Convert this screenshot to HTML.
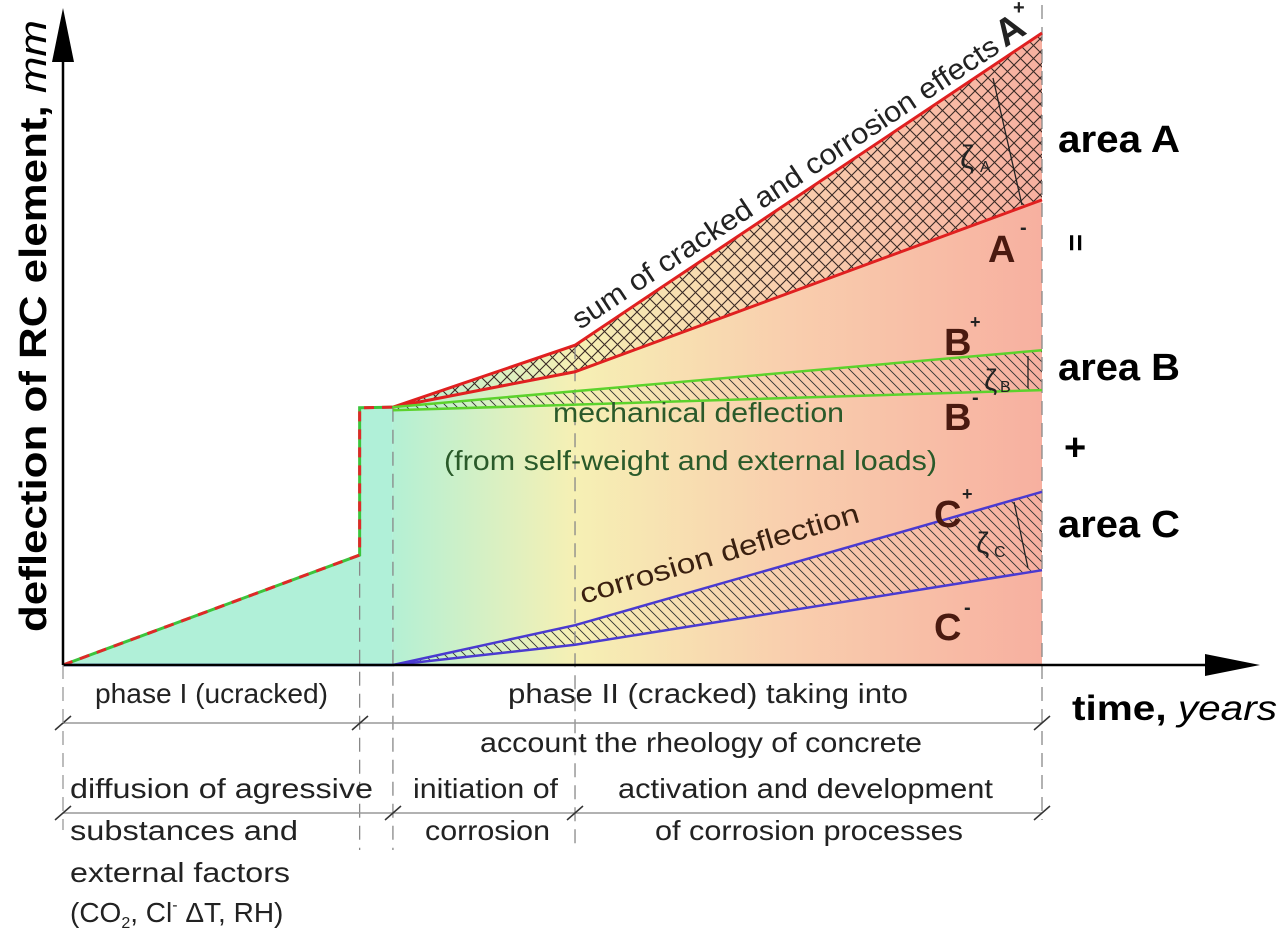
<!DOCTYPE html>
<html><head><meta charset="utf-8">
<style>
html,body{margin:0;padding:0;background:#fff;}
svg{display:block;font-family:"Liberation Sans",sans-serif;}
</style></head>
<body>
<svg id="chart" width="1280" height="934" viewBox="0 0 1280 934">
<defs>
<linearGradient id="grad" x1="393" y1="0" x2="1042" y2="0" gradientUnits="userSpaceOnUse">
<stop offset="0" stop-color="#b4f0d4"/>
<stop offset="0.28" stop-color="#f6f0b4"/>
<stop offset="0.6" stop-color="#f9cfae"/>
<stop offset="1" stop-color="#f7b0a0"/>
</linearGradient>
<pattern id="cross" width="13" height="13" patternUnits="userSpaceOnUse">
<path d="M0,0L13,13M13,0L0,13" stroke="#3a2a25" stroke-width="1.1"/>
</pattern>
<pattern id="diag" width="10" height="10" patternUnits="userSpaceOnUse">
<path d="M-2,-2L12,12M8,-2L12,2M-2,8L2,12" stroke="#333" stroke-width="0.9"/>
</pattern>
</defs>
<g id="plot"></g>
</svg>
<script>
const phaseT = [0, 3.03, 3.03, 3.37];
const phaseD = [0, 17.4, 40.7, 40.8];
const aPlusT = [3.37, 5.23, 10];
const aPlusD = [40.8, 50.6, 100];
const aMinusT = [3.37, 5.23, 10];
const aMinusD = [40.8, 46.4, 73.6];
const bPlusT = [3.37, 10];
const bPlusD = [40.8, 49.8];
const bMinusT = [3.37, 10];
const bMinusD = [40.3, 43.5];
const cPlusT = [3.37, 5.23, 10];
const cPlusD = [0, 6.3, 27.4];
const cMinusT = [3.37, 5.23, 10];
const cMinusD = [0, 3.2, 15];
const boundaryT = [3.03, 3.37, 5.23, 10];

const X = t => 63 + t * 97.9;
const Y = d => 665 - d * 6.32;
const NS = "http://www.w3.org/2000/svg";
const g = document.getElementById('plot');
function mk(tag, attrs, parent) {
  const e = document.createElementNS(NS, tag);
  for (const k in attrs) e.setAttribute(k, attrs[k]);
  (parent || g).appendChild(e);
  return e;
}
function pts(T, D) { return T.map((t, i) => X(t) + ',' + Y(D[i])); }

let e = mk('polygon', {points: [X(0)+','+Y(0), ...pts(phaseT, phaseD).slice(1), X(3.37)+','+Y(0)].join(' '), fill: '#b0f0d8'});


e = mk('polygon', {points: [X(3.37)+','+Y(0), ...pts(aPlusT, aPlusD), X(10)+','+Y(0)].join(' '), fill: 'url(#grad)'});


function band(T1, D1, T2, D2, fill, name) {
  const p = pts(T1, D1).concat(pts(T2, D2).reverse());
  const el = mk('polygon', {points: p.join(' '), fill: fill});
  
  
}
band(aPlusT, aPlusD, aMinusT, aMinusD, 'url(#cross)', 'area-a-hatch');
band(bPlusT, bPlusD, bMinusT, bMinusD, 'url(#diag)', 'area-b-hatch');
band(cPlusT, cPlusD, cMinusT, cMinusD, 'url(#diag)', 'area-c-hatch');

const dashBottoms = [850, 850, 845, 820];
boundaryT.forEach((t, i) => {
  const l = mk('line', {x1: X(t), x2: X(t), y1: 5, y2: dashBottoms[i], stroke: '#888', 'stroke-width': 1.3, 'stroke-dasharray': '14,8'});
  if (i < 2) l.setAttribute('y1', Y(phaseD[2]));
  if (i === 2) l.setAttribute('y1', Y(aPlusD[1]));
  
  
});

function line(T, D, color, w, name, dash) {
  const el = mk('polyline', {points: pts(T, D).join(' '), fill: 'none', stroke: color, 'stroke-width': w});
  if (dash) el.setAttribute('stroke-dasharray', dash);
  
  
}
line([0, 3.37], [0, 0], '#2a4fd8', 2.5, 'phase-1-baseline');
line(phaseT, phaseD, '#3cc43c', 3, 'phase-1-line');
line(phaseT, phaseD, '#e02828', 3, 'phase-1-line-dash', '10,8');
line(aPlusT, aPlusD, '#e02020', 3, 'line-a-plus');
line(aMinusT, aMinusD, '#e02020', 3, 'line-a-minus');
line(bPlusT, bPlusD, '#5cd22c', 2.5, 'line-b-plus');
line(bMinusT, bMinusD, '#5cd22c', 2.5, 'line-b-minus');
line(cPlusT, cPlusD, '#4a3ad0', 2.5, 'line-c-plus');
line(cMinusT, cMinusD, '#4a3ad0', 2.5, 'line-c-minus');

e = mk('line', {x1: 63, y1: 665, x2: 1215, y2: 665, stroke: '#000', 'stroke-width': 2.5});
 
e = mk('polygon', {points: '1260,665 1205,654 1205,676', fill: '#000'});
 
e = mk('line', {x1: 63, y1: 665, x2: 63, y2: 50, stroke: '#000', 'stroke-width': 2.5});
 
e = mk('polygon', {points: '63,8 52,62 74,62', fill: '#000'});
 

e = mk('line', {x1: 63, y1: 723, x2: 1042, y2: 723, stroke: '#999', 'stroke-width': 1.5});
 
e = mk('line', {x1: 63, y1: 813, x2: 1042, y2: 813, stroke: '#999', 'stroke-width': 1.5});
 
[[63,723],[360,723],[1042,723],[63,813],[393,813],[575,813],[1042,813]].forEach(p => {
  const t = mk('line', {x1: p[0]-8, y1: p[1]+7, x2: p[0]+8, y2: p[1]-7, stroke: '#333', 'stroke-width': 1.5});
  
  
});
e = mk('line', {x1: 63, y1: 665, x2: 63, y2: 830, stroke: '#999', 'stroke-width': 1.3, 'stroke-dasharray': '14,8'});
 

function txt(s, x, y, attrs, name, len) {
  const el = mk('text', Object.assign({x: x, y: y, 'font-size': 28, fill: '#222'}, attrs || {}));
  el.textContent = s;
  if (len) { el.setAttribute('textLength', len); el.setAttribute('lengthAdjust', 'spacingAndGlyphs'); }
  
  
  return el;
}
const yt = txt('deflection of RC element, ', 0, 0, {'font-size': 38, 'font-weight': 'bold', fill: '#000', transform: 'translate(46,632) rotate(-90)'}, 'y-axis-title', 612);
const ts = document.createElementNS(NS, 'tspan'); ts.setAttribute('font-style', 'italic'); ts.setAttribute('font-weight', 'normal'); ts.textContent = 'mm'; yt.appendChild(ts);
const xt = txt('time, ', 1072, 720, {'font-size': 35, 'font-weight': 'bold', fill: '#000'}, 'x-axis-title', 205);
const ts2 = document.createElementNS(NS, 'tspan'); ts2.setAttribute('font-style', 'italic'); ts2.setAttribute('font-weight', 'normal'); ts2.textContent = 'years'; xt.appendChild(ts2);

txt('sum of cracked and corrosion effects', 0, 0, {'font-size': 29, fill: '#222', transform: 'translate(580,330) rotate(-33.5)'}, 'label-sum', 505);
txt('corrosion deflection', 0, 0, {'font-size': 28, fill: '#3a2010', transform: 'translate(583,604) rotate(-16.5)'}, 'label-corrosion', 290);
txt('mechanical deflection', 553, 422, {'font-size': 28, fill: '#2a5a2a'}, 'label-mechanical', 291);
txt('(from self-weight and external loads)', 444, 470, {'font-size': 28, fill: '#2a5a2a'}, 'label-mechanical-sub', 493);

const big = {'font-size': 38, 'font-weight': 'bold', fill: '#4a1a10'};
txt('A', 0, 0, Object.assign({}, big, {fill: '#222', transform: 'translate(1005,48) rotate(-33)'}), 'label-a-plus');
txt('+', 1013, 14, {'font-size': 20, 'font-weight': 'bold'}, 'sup-a-plus');
txt('A', 988, 262, big, 'label-a-minus');
txt('-', 1020, 234, {'font-size': 20, 'font-weight': 'bold'}, 'sup-a-minus');
txt('B', 944, 355, big, 'label-b-plus');
txt('+', 970, 328, {'font-size': 18, 'font-weight': 'bold'}, 'sup-b-plus');
txt('B', 944, 430, big, 'label-b-minus');
txt('-', 972, 404, {'font-size': 20, 'font-weight': 'bold'}, 'sup-b-minus');
txt('C', 934, 527, big, 'label-c-plus');
txt('+', 962, 500, {'font-size': 18, 'font-weight': 'bold'}, 'sup-c-plus');
txt('C', 934, 640, big, 'label-c-minus');
txt('-', 964, 614, {'font-size': 20, 'font-weight': 'bold'}, 'sup-c-minus');

txt('ζ', 960, 168, {'font-size': 32}, 'zeta-a'); txt('A', 980, 172, {'font-size': 16}, 'zeta-a-sub');
txt('ζ', 984, 390, {'font-size': 30}, 'zeta-b'); txt('B', 1000, 392, {'font-size': 16}, 'zeta-b-sub');
txt('ζ', 976, 553, {'font-size': 30}, 'zeta-c'); txt('C', 994, 557, {'font-size': 16}, 'zeta-c-sub');
[[993,78,1022,205],[1028,356,1028,388],[1014,502,1028,568]].forEach(a => {
  const l = mk('line', {x1: a[0], y1: a[1], x2: a[2], y2: a[3], stroke: '#222', 'stroke-width': 1.3});
  
  
});

const ar = {'font-size': 38, 'font-weight': 'bold', fill: '#000'};
txt('area A', 1058, 152, ar, 'area-a-label', 122);
txt('=', 0, 0, Object.assign({}, ar, {transform: 'translate(1066,234) rotate(90)', 'font-size': 30}), 'equals-sign');
txt('area B', 1058, 380, ar, 'area-b-label', 122);
txt('+', 1064, 460, ar, 'plus-sign');
txt('area C', 1058, 537, ar, 'area-c-label', 122);

txt('phase I (ucracked)', 95, 703, {}, 'phase-1-label', 233);
txt('phase II (cracked) taking into', 508, 703, {}, 'phase-2-label', 400);
txt('account the rheology of concrete', 480, 752, {}, 'phase-2-label-2', 442);
txt('diffusion of agressive', 70, 798, {}, 'diffusion-label-1', 303);
txt('substances and', 70, 840, {}, 'diffusion-label-2', 228);
txt('external factors', 70, 882, {}, 'diffusion-label-3', 220);
const cl = txt('(CO', 70, 922, {}, 'diffusion-label-4');
[['2', 'sub'], [', Cl', 'up'], ['-', 'sup'], [' ΔT, RH)', 'down']].forEach(p => {
  const s = document.createElementNS(NS, 'tspan');
  s.textContent = p[0];
  if (p[1] === 'sub') { s.setAttribute('font-size', 16); s.setAttribute('dy', 6); }
  if (p[1] === 'up') s.setAttribute('dy', -6);
  if (p[1] === 'sup') { s.setAttribute('font-size', 16); s.setAttribute('dy', -12); }
  if (p[1] === 'down') s.setAttribute('dy', 12);
  cl.appendChild(s);
});
txt('initiation of', 413, 798, {}, 'initiation-label-1', 145);
txt('corrosion', 425, 840, {}, 'initiation-label-2', 125);
txt('activation and development', 618, 798, {}, 'activation-label-1', 375);
txt('of corrosion processes', 655, 840, {}, 'activation-label-2', 308);
</script>
</body></html>
